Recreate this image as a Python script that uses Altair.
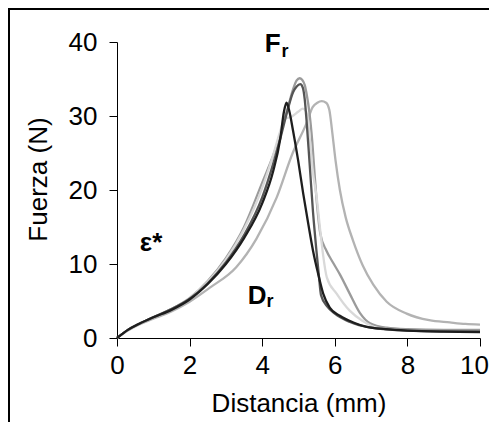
import altair as alt
import pandas as pd

# ---- data ----
series_names = ["A", "B", "C", "D", "E"]
series_colors = ["#b3b3b3", "#9b9b9b", "#d9d9d9", "#555555", "#1e1e1e"]

# E: black curve (peak ~31.8 at 4.67)
e_x = [0, 0.3, 0.6, 1.0, 1.5, 2.0, 2.5, 3.0, 3.5, 4.0, 4.3, 4.5, 4.6, 4.67, 4.74, 4.85, 4.99, 5.13, 5.27, 5.4, 5.54, 5.68, 5.86, 6.14, 6.51, 6.88, 7.4, 8.0, 9.0, 10.0]
e_y = [0, 1.1, 1.9, 2.8, 3.8, 5.2, 7.3, 10.0, 13.5, 18.2, 22.5, 27.0, 30.6, 31.8, 30.8, 28.0, 24.0, 19.5, 15.4, 11.8, 8.7, 6.0, 4.1, 3.0, 2.1, 1.5, 1.2, 1.0, 0.85, 0.8]

# D: dark grey curve (peak ~34.2 at 5.05)
d_x = [0, 0.3, 0.6, 1.0, 1.5, 2.0, 2.5, 3.0, 3.5, 4.0, 4.3, 4.5, 4.7, 4.85, 4.95, 5.05, 5.12, 5.17, 5.22, 5.3, 5.4, 5.5, 5.56, 5.62, 5.8, 6.0, 6.4, 7.0, 8.0, 9.0, 10.0]
d_y = [0, 1.1, 1.9, 2.8, 3.9, 5.3, 7.4, 10.2, 13.9, 19.0, 23.5, 27.0, 30.8, 33.2, 34.0, 34.3, 33.8, 32.3, 29.5, 24.0, 17.0, 11.5, 8.5, 5.8, 4.2, 3.3, 2.2, 1.4, 1.0, 0.9, 0.9]

# B: medium grey curve (tallest, ~35 at 5.0)
b_x = [0, 0.3, 0.6, 1.0, 1.5, 2.0, 2.5, 3.0, 3.5, 4.0, 4.4, 4.7, 4.85, 4.95, 5.03, 5.1, 5.17, 5.23, 5.3, 5.38, 5.45, 5.52, 5.6, 5.77, 5.95, 6.14, 6.41, 6.69, 6.97, 7.43, 8.0, 9.0, 10.0]
b_y = [0, 1.1, 1.9, 2.8, 3.9, 5.4, 7.7, 10.8, 15.0, 21.0, 26.0, 31.0, 33.6, 34.8, 35.1, 34.9, 34.2, 32.8, 30.5, 26.5, 21.7, 17.5, 14.1, 11.8, 10.2, 8.6, 6.0, 3.4, 2.0, 1.4, 1.2, 1.1, 1.1]

# C: light grey curve (shoulder ~29.6, peak ~31 at 5.15)
c_x = [0, 0.3, 0.6, 1.0, 1.5, 2.0, 2.5, 3.0, 3.5, 4.0, 4.3, 4.5, 4.62, 4.81, 5.0, 5.12, 5.2, 5.26, 5.32, 5.39, 5.5, 5.6, 5.67, 5.78, 6.05, 6.41, 6.77, 7.14, 8.0, 9.0, 10.0]
c_y = [0, 1.1, 1.9, 2.8, 3.9, 5.4, 7.6, 10.6, 14.7, 20.3, 24.7, 28.0, 29.6, 29.9, 30.6, 31.0, 30.7, 29.5, 26.5, 22.7, 19.0, 14.5, 11.5, 8.2, 6.0, 3.7, 2.3, 1.4, 1.0, 0.9, 0.9]

# A: right grey curve (peak ~32 at 5.64)
a_x = [0, 0.3, 0.6, 1.0, 1.5, 2.0, 2.56, 3.29, 3.84, 4.4, 4.84, 5.22, 5.39, 5.52, 5.64, 5.76, 5.85, 5.93, 6.02, 6.14, 6.3, 6.5, 6.77, 7.06, 7.43, 7.98, 8.6, 9.17, 9.6, 10.0]
a_y = [0, 1.0, 1.8, 2.6, 3.6, 4.9, 6.8, 9.6, 13.4, 19.0, 25.0, 29.0, 31.2, 31.8, 32.0, 31.8, 30.8, 27.8, 24.0, 20.0, 16.3, 13.2, 9.8, 7.2, 4.9, 3.3, 2.4, 2.1, 1.9, 1.8]

ann_text = ["F", "r", "\u03b5*", "D", "r"]
ann_x = [4.07, 4.53, 0.63, 3.6, 4.12]
ann_y = [38.6, 38.0, 11.8, 4.65, 4.2]
ann_size = [26, 18, 26, 26, 18]

x_ticks = [0, 2, 4, 6, 8, 10]
y_ticks = [0, 10, 20, 30, 40]

# ---- tables ----
rows = []
for name, xs, ys in zip(series_names, [a_x, b_x, c_x, d_x, e_x], [a_y, b_y, c_y, d_y, e_y]):
    for i, (xv, yv) in enumerate(zip(xs, ys)):
        rows.append({"serie": name, "x": xv, "y": yv, "i": i})
df = pd.DataFrame(rows)
ann = pd.DataFrame({"t": ann_text, "x": ann_x, "y": ann_y, "s": ann_size})

FONT = "Liberation Sans"

x_enc = alt.X("x:Q", scale=alt.Scale(domain=[0, 10], nice=False),
              axis=alt.Axis(values=x_ticks, title="Distancia (mm)", grid=False,
                            tickSize=8, labelPadding=6, titlePadding=12,
                            labelFlush=False, labelOverlap=False,
                            labelOffset=alt.condition("datum.value == 10", alt.value(-6), alt.value(0)),
                            labelFontSize=26, titleFontSize=26, titleFontWeight="normal",
                            labelFont=FONT, titleFont=FONT,
                            domainColor="black", tickColor="black",
                            labelColor="black", titleColor="black"))
y_enc = alt.Y("y:Q", scale=alt.Scale(domain=[0, 40], nice=False),
              axis=alt.Axis(values=y_ticks, title="Fuerza (N)", grid=False,
                            tickSize=8, labelPadding=12,
                            labelFlush=False, labelOverlap=False,
                            labelFontSize=26, titleFontSize=26, titleFontWeight="normal",
                            labelFont=FONT, titleFont=FONT,
                            titleX=-79, titleY=137, titleBaseline="middle",
                            domainColor="black", tickColor="black",
                            labelColor="black", titleColor="black"))

lines = alt.Chart(df).mark_line(strokeWidth=2.3, interpolate="monotone").encode(
    x=x_enc, y=y_enc,
    color=alt.Color("serie:N", scale=alt.Scale(domain=series_names, range=series_colors), legend=None),
    order=alt.Order("i:Q"),
)

labels = alt.Chart(ann).mark_text(font=FONT, fontWeight="bold", align="left",
                                  baseline="alphabetic", color="black").encode(
    x="x:Q", y="y:Q", text="t:N", size=alt.Size("s:Q", scale=None),
)

frame = alt.Chart(pd.DataFrame({"k": [0]})).mark_rect(
    fill="transparent", stroke="black", strokeWidth=2
).encode(x=alt.value(-108), x2=alt.value(600), y=alt.value(-33), y2=alt.value(600))

chart = alt.layer(lines, labels, frame).properties(
    width=363, height=296,
    padding={"left": 109, "top": 34, "right": 9, "bottom": 84},
    autosize=alt.AutoSizeParams(type="none"),
).configure_view(stroke=None)

chart.save("out.html", embed_options={"renderer": "svg", "actions": False})
